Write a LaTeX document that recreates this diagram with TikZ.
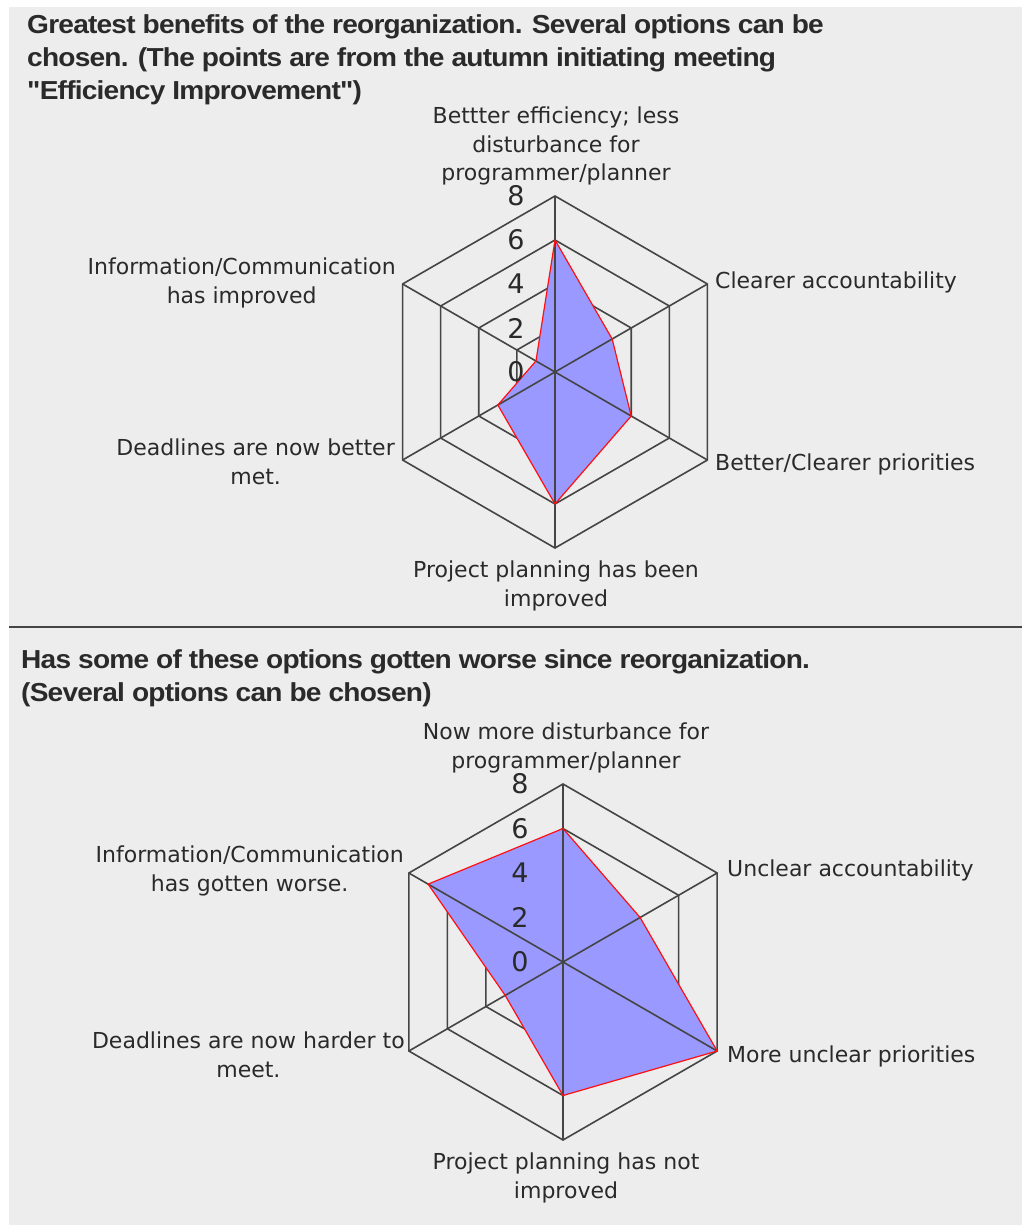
\documentclass[tikz,border=0pt]{standalone}
\usepackage{fontspec}
\setmainfont{DejaVu Sans}
\newfontfamily\titlefont[LetterSpace=-3,FakeStretch=1.08]{Liberation Sans}
\begin{document}
\definecolor{panel}{HTML}{EDEDED}
\definecolor{gridc}{HTML}{454545}
\definecolor{areac}{HTML}{9999FF}
\definecolor{edgec}{HTML}{FF1010}
\definecolor{inkc}{HTML}{2A2A2A}
\begin{tikzpicture}[x=1pt,y=-1pt,
  gridline/.style={draw=gridc,line width=1.6pt,line join=miter},
  series/.style={fill=areac,draw=edgec,line width=1.2pt,line join=round},
  axlabel/.style={inner sep=0pt,align=center,text=inkc,
    font=\fontsize{22}{28.5}\selectfont},
  tick/.style={inner sep=0pt,text=inkc,font=\fontsize{27}{27}\selectfont},
  heading/.style={inner sep=0pt,align=left,text=inkc,
    font=\titlefont\bfseries\fontsize{26}{33}\selectfont}]

% page and panel
\fill[white] (0,0) rectangle (1022,1225);
\fill[panel] (9,7) rectangle (1022,1225);
\draw[draw=gridc,line width=2.2pt] (9,627) coordinate (sepL) -- (1022,627) coordinate (sepR);

% ---------- first radar chart ----------
\node[heading,anchor=north west] (title1) at (27,14)
  {Greatest benefits of the reorganization. Several options can be\\
   chosen. (The points are from the autumn initiating meeting\\
   "Efficiency Improvement")};

\coordinate (c1) at (555,372);
\foreach \k in {1,2,3,4}{
  \draw[gridline] ([shift={(c1)}]-90:\k*44)
    -- ([shift={(c1)}]-30:\k*44) -- ([shift={(c1)}]30:\k*44)
    -- ([shift={(c1)}]90:\k*44) -- ([shift={(c1)}]150:\k*44)
    -- ([shift={(c1)}]210:\k*44) -- cycle;
}
\path ([shift={(c1)}]-90:6*22) coordinate (a1)
      ([shift={(c1)}]-30:3*22) coordinate (a2)
      ([shift={(c1)}]30:4*22)  coordinate (a3)
      ([shift={(c1)}]90:6*22)  coordinate (a4)
      ([shift={(c1)}]150:3*22) coordinate (a5)
      ([shift={(c1)}]210:1*22) coordinate (a6);
\fill[areac] (a1) -- (a2) -- (a3) -- (a4) -- (a5) -- (a6) -- cycle;
\foreach \a in {-90,-30,30,90,150,210}
  \draw[gridline] (c1) -- ([shift={(c1)}]\a:176);
\draw[series,fill=none] (a1) -- (a2) -- (a3) -- (a4) -- (a5) -- (a6) -- cycle;
\foreach \k in {0,1,2,3,4}{
  \pgfmathtruncatemacro\v{2*\k}
  \node[tick] (t1-\k) at ([shift={(c1)}]-39,-\k*44) {\v};
}

\node[axlabel,anchor=north] (l1-1) at (556,107)
  {Bettter efficiency; less\\disturbance for\\programmer/planner};
\node[axlabel,anchor=base west] (l1-2) at (715,288) {Clearer accountability};
\node[axlabel,anchor=base west] (l1-3) at (715,470) {Better/Clearer priorities};
\node[axlabel,anchor=north] (l1-4) at (556,561)
  {Project planning has been\\improved};
\node[axlabel,anchor=north east] (l1-5) at (395,439)
  {Deadlines are now better\\met.};
\node[axlabel,anchor=north east] (l1-6) at (396,258)
  {Information/Communication\\has improved};

% ---------- second radar chart ----------
\node[heading,anchor=north west] (title2) at (21,649)
  {Has some of these options gotten worse since reorganization.\\
   (Several options can be chosen)};

\coordinate (c2) at (563,962);
\foreach \k in {1,2,3,4}{
  \draw[gridline] ([shift={(c2)}]-90:\k*44.5)
    -- ([shift={(c2)}]-30:\k*44.5) -- ([shift={(c2)}]30:\k*44.5)
    -- ([shift={(c2)}]90:\k*44.5) -- ([shift={(c2)}]150:\k*44.5)
    -- ([shift={(c2)}]210:\k*44.5) -- cycle;
}
\path ([shift={(c2)}]-90:6*22.25) coordinate (b1)
      ([shift={(c2)}]-30:4*22.25) coordinate (b2)
      ([shift={(c2)}]30:8*22.25)  coordinate (b3)
      ([shift={(c2)}]90:6*22.25)  coordinate (b4)
      ([shift={(c2)}]150:3*22.25) coordinate (b5)
      ([shift={(c2)}]210:7*22.25) coordinate (b6);
\fill[areac] (b1) -- (b2) -- (b3) -- (b4) -- (b5) -- (b6) -- cycle;
\foreach \a in {-90,-30,30,90,150,210}
  \draw[gridline] (c2) -- ([shift={(c2)}]\a:178);
\draw[series,fill=none] (b1) -- (b2) -- (b3) -- (b4) -- (b5) -- (b6) -- cycle;
\foreach \k in {0,1,2,3,4}{
  \pgfmathtruncatemacro\v{2*\k}
  \node[tick] (t2-\k) at ([shift={(c2)}]-43,-\k*44.5) {\v};
}

\node[axlabel,anchor=north] (l2-1) at (566,723)
  {Now more disturbance for\\programmer/planner};
\node[axlabel,anchor=base west] (l2-2) at (727,876) {Unclear accountability};
\node[axlabel,anchor=base west] (l2-3) at (727,1062) {More unclear priorities};
\node[axlabel,anchor=north] (l2-4) at (566,1153)
  {Project planning has not\\improved};
\node[axlabel,anchor=north east] (l2-5) at (405,1032)
  {Deadlines are now harder to\\meet.};
\node[axlabel,anchor=north east] (l2-6) at (404,846)
  {Information/Communication\\has gotten worse.};
\end{tikzpicture}
\end{document}
